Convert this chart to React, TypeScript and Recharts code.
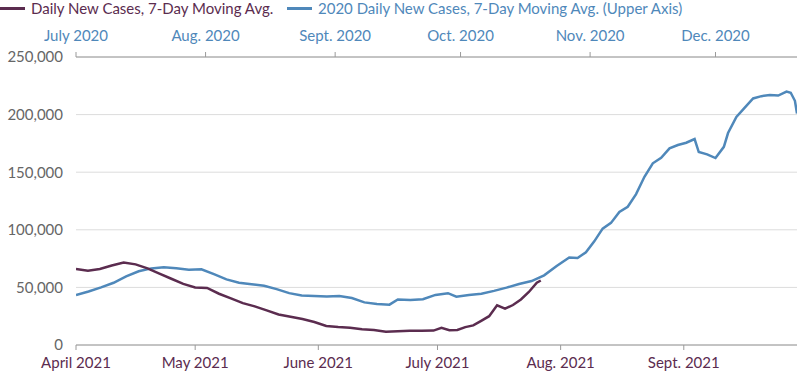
import React from 'react';
import { LineChart, Line, XAxis, YAxis, CartesianGrid } from 'recharts';

// 2021 series, days since April 1 2021 (lower axis)
const cases2021Days = [0, 3, 6, 9, 12, 15, 18, 21, 24, 27, 30, 33, 36, 39, 42, 45, 48, 51, 54, 57, 60, 63, 66, 69, 72, 75, 78, 81, 84, 87, 90, 92, 94, 96, 98, 100, 102, 104, 106, 108, 110, 112, 114, 116, 117];
const cases2021 = [66000, 64500, 66000, 69000, 71500, 70000, 66500, 62000, 57500, 53000, 50000, 49500, 44500, 40500, 36300, 33500, 30000, 26500, 24500, 22500, 20000, 16500, 15600, 15000, 13600, 13000, 11500, 12000, 12400, 12400, 12500, 15000, 12800, 13000, 15500, 17000, 21000, 25000, 34400, 31500, 34700, 39500, 46000, 54000, 56000];

// 2020 series, days since July 1 2020 (upper axis)
const cases2020Days = [0, 3, 6, 9, 12, 15, 18, 21, 24, 27, 30, 33, 36, 39, 42, 45, 48, 51, 54, 57, 60, 63, 66, 69, 72, 75, 77, 80, 83, 86, 89, 91, 94, 97, 100, 103, 106, 109, 112, 115, 118, 120, 122, 124, 126, 128, 130, 132, 134, 136, 138, 140, 142, 144, 146, 148, 149, 151, 153, 155, 156, 158, 160, 162, 164, 166, 168, 170, 171, 172, 172.5];
const cases2020 = [43400, 46500, 50000, 54000, 59500, 64000, 66500, 67500, 66600, 65400, 65700, 61500, 57000, 54000, 52700, 51500, 48500, 45000, 43000, 42500, 42000, 42500, 40800, 37000, 35600, 35000, 39500, 39000, 39700, 43500, 45000, 42000, 43500, 44500, 47000, 49800, 53000, 55500, 60500, 68500, 76000, 75500, 80500, 90000, 101000, 106000, 115500, 120000, 131000, 146000, 157700, 162500, 170700, 173600, 175600, 178800, 167500, 165500, 162300, 172000, 184000, 198000, 206000, 214000, 216000, 217000, 216500, 220000, 219000, 212000, 201000];

const lowerTicks = [0, 30, 61, 91, 122, 153];
const lowerLabels = ['April 2021', 'May 2021', 'June 2021', 'July 2021', 'Aug. 2021', 'Sept. 2021'];
const upperTicks = [0, 31, 62, 92, 123, 153];
const upperLabels = ['July 2020', 'Aug. 2020', 'Sept. 2020', 'Oct. 2020', 'Nov. 2020', 'Dec. 2020'];
const yTicks = [0, 50000, 100000, 150000, 200000, 250000];

const PURPLE = '#5b2c4f';
const BLUE = '#4f88ba';
const FONT = 'Lato, "Open Sans", sans-serif';

const data2021 = cases2021Days.map((d, i) => ({ d, v: cases2021[i] }));
const data2020 = cases2020Days.map((d, i) => ({ d, v: cases2020[i] }));

const LegendItem = ({ color, text, left }: { color: string; text: string; left: number }) => (
  <div style={{ position: 'absolute', left, top: 1, display: 'flex', alignItems: 'center', height: 15, lineHeight: '15px' }}>
    <span style={{ display: 'inline-block', width: 25, height: 3, background: color, marginRight: 6 }} />
    <span style={{ color, fontSize: 15, fontFamily: FONT, whiteSpace: 'nowrap' }}>{text}</span>
  </div>
);

export default function App() {
  return (
    <div style={{ position: 'absolute', left: 0, top: 0, width: 800, height: 375, background: '#fff' }}>
      <LegendItem color={PURPLE} text="Daily New Cases, 7-Day Moving Avg." left={0} />
      <LegendItem color={BLUE} text="2020 Daily New Cases, 7-Day Moving Avg. (Upper Axis)" left={287} />
      <LineChart width={800} height={375} margin={{ top: 22, right: 3, left: 0, bottom: 5 }}>
        <CartesianGrid vertical={false} stroke="#dcdcdc" yAxisId="y" xAxisId="bottom" />
        <XAxis
          xAxisId="bottom"
          dataKey="d"
          type="number"
          domain={[0, 181.5]}
          ticks={lowerTicks}
          tickFormatter={(t: number) => lowerLabels[lowerTicks.indexOf(t)]}
          height={25}
          tickSize={5}
          tickMargin={7}
          stroke="#9a9a9a"
          tick={{ fill: PURPLE, fontSize: 15, fontFamily: FONT }}
          interval={0}
          allowDataOverflow
        />
        <XAxis
          xAxisId="top"
          orientation="top"
          dataKey="d"
          type="number"
          domain={[0, 172.5]}
          ticks={upperTicks}
          tickFormatter={(t: number) => upperLabels[upperTicks.indexOf(t)]}
          height={35}
          tickSize={5}
          tickMargin={11}
          stroke="#9a9a9a"
          tick={{ fill: BLUE, fontSize: 15, fontFamily: FONT }}
          interval={0}
          allowDataOverflow
        />
        <YAxis
          yAxisId="y"
          width={76}
          domain={[0, 250000]}
          ticks={yTicks}
          axisLine={false}
          tickLine={false}
          tickSize={0}
          tickMargin={13}
          tickFormatter={(v: number) => v.toLocaleString('en-US')}
          tick={{ fill: '#666', fontSize: 15, fontFamily: FONT }}
        />
        <Line
          data={data2020}
          xAxisId="top"
          yAxisId="y"
          dataKey="v"
          stroke={BLUE}
          strokeWidth={2.5}
          dot={false}
          type="linear"
          isAnimationActive={false}
        />
        <Line
          data={data2021}
          xAxisId="bottom"
          yAxisId="y"
          dataKey="v"
          stroke={PURPLE}
          strokeWidth={2.5}
          dot={false}
          type="linear"
          isAnimationActive={false}
        />
      </LineChart>
    </div>
  );
}
